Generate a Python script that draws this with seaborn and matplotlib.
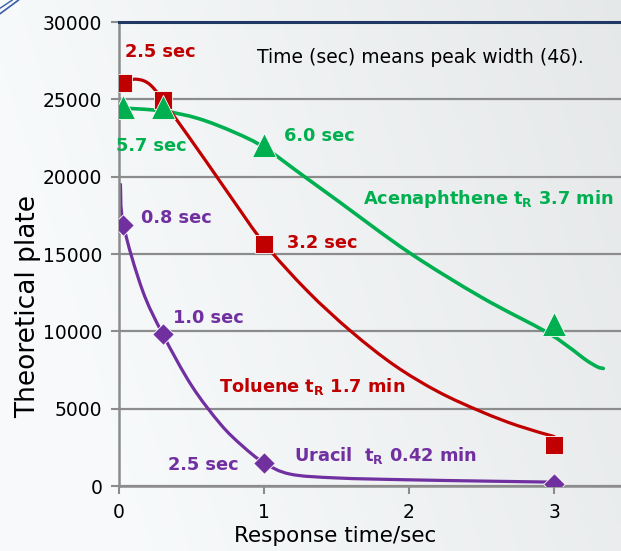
import numpy as np
import pandas as pd
import matplotlib
matplotlib.use("Agg")
import matplotlib.pyplot as plt
from matplotlib.path import Path
from matplotlib.patches import PathPatch
import seaborn as sns

# ---------------- data ----------------
marker_x = [0.03, 0.3, 1.0, 3.0]
toluene_pts = [26050, 24950, 15620, 2650]
acenaph_pts = [24500, 24500, 22040, 10500]
uracil_pts = [16900, 9850, 1500, 150]

toluene_curve_x = [0.03, 0.12, 0.22, 0.35, 0.6, 0.8, 1.0, 1.3, 1.6, 1.9, 2.2, 2.5, 2.75, 3.0]
toluene_curve_y = [26100, 26300, 25900, 24300, 21000, 18300, 15700, 12600, 10000, 7800, 6100, 4800, 3900, 3200]

acenaph_curve_x = [0.0, 0.3, 0.55, 0.8, 1.0, 1.25, 1.5, 2.0, 2.5, 2.94, 3.1, 3.22, 3.3, 3.34]
acenaph_curve_y = [24450, 24250, 23750, 22850, 21900, 20200, 18500, 15100, 12200, 10000, 9000, 8150, 7700, 7600]

uracil_curve_x = [0.01, 0.03, 0.16, 0.3, 0.5, 0.7, 0.85, 1.0, 1.18, 1.5, 2.0, 2.5, 3.0]
uracil_curve_y = [19500, 16900, 12700, 9850, 6500, 4000, 2600, 1500, 770, 520, 400, 320, 250]

x_ticks = [0, 1, 2, 3]
y_ticks = [0, 5000, 10000, 15000, 20000, 25000, 30000]

RED = "#C00000"
GREEN = "#00B050"
PURPLE = "#7030A0"

sns.set_theme(style="white")
plt.rcParams["font.family"] = ["DejaVu Sans"]
plt.rcParams["mathtext.fontset"] = "custom"
plt.rcParams["mathtext.rm"] = "DejaVu Sans:bold"
plt.rcParams["mathtext.it"] = "DejaVu Sans:bold"
plt.rcParams["mathtext.bf"] = "DejaVu Sans:bold"

fig = plt.figure(figsize=(6.21, 5.51), dpi=100)

# background gradient
bg = fig.add_axes([0, 0, 1, 1], zorder=-10)
gx = np.linspace(0, 1, 200)
gy = np.linspace(0, 1, 200)
GX, GY = np.meshgrid(gx, gy)
val = 0.985 - 0.075 * np.clip(GX * 0.9 + (1 - GY) * 0.25 - 0.2, 0, 1)
img = np.dstack([val * 0.985, val * 0.995, val * 1.0])
img = np.clip(img, 0, 1)
bg.imshow(img, extent=[0, 1, 0, 1], aspect="auto", origin="upper")
bg.plot([0.0, 0.03], [0.975, 1.0], color="#3a5ea8", lw=1.2)
bg.plot([0.0, 0.02], [0.985, 1.0], color="#3a5ea8", lw=1.0)
bg.set_xlim(0, 1)
bg.set_ylim(0, 1)
bg.axis("off")

ax = fig.add_axes([119 / 621, 65 / 551, 1 - 119 / 621, (486 - 22) / 551])
ax.set_facecolor("none")


def smooth_line(ax, xs, ys, color, lw, z):
    """Excel-style smoothed line: Catmull-Rom segments drawn as cubic Beziers."""
    P = np.column_stack([xs, ys]).astype(float)
    n = len(P)
    verts = [tuple(P[0])]
    codes = [Path.MOVETO]
    for i in range(n - 1):
        p0 = P[i - 1] if i > 0 else P[i]
        p1 = P[i]
        p2 = P[i + 1]
        p3 = P[i + 2] if i + 2 < n else P[i + 1]
        c1 = p1 + (p2 - p0) / 6.0
        c2 = p2 - (p3 - p1) / 6.0
        verts += [tuple(c1), tuple(c2), tuple(p2)]
        codes += [Path.CURVE4] * 3
    patch = PathPatch(Path(verts, codes), facecolor="none", edgecolor=color, lw=lw,
                      zorder=z, transform=ax.transData, capstyle="round", joinstyle="round")
    ax.add_patch(patch)


smooth_line(ax, acenaph_curve_x, acenaph_curve_y, GREEN, 2.6, 2)
smooth_line(ax, toluene_curve_x, toluene_curve_y, RED, 2.3, 2)
smooth_line(ax, uracil_curve_x, uracil_curve_y, PURPLE, 2.3, 2)

# markers
sns.scatterplot(x=marker_x, y=toluene_pts, ax=ax, marker="s", s=185, color=RED,
                edgecolor="white", linewidth=0.6, zorder=3)
sns.scatterplot(x=marker_x, y=acenaph_pts, ax=ax, marker="^", s=300, color=GREEN,
                edgecolor="white", linewidth=0.6, zorder=4)
sns.scatterplot(x=marker_x, y=uracil_pts, ax=ax, marker="D", s=120, color=PURPLE,
                edgecolor="white", linewidth=0.6, zorder=4)

ax.set_xlim(0, (621 - 119) / 145)
ax.set_ylim(0, 30000)
ax.set_xticks(x_ticks)
ax.set_yticks(y_ticks)
ax.set_xticklabels([str(v) for v in x_ticks], fontsize=13.5)
ax.set_yticklabels([str(v) for v in y_ticks], fontsize=13.5)
ax.tick_params(axis="both", direction="out", length=6, width=1.5, color="#8c8c8c",
               labelcolor="black", pad=6)
ax.tick_params(axis="y", left=True)
ax.tick_params(axis="x", bottom=True)
ax.grid(axis="y", color="#8c8c8c", lw=1.6, zorder=1)
ax.set_axisbelow(True)
for side in ["left", "bottom"]:
    ax.spines[side].set_color("#8c8c8c")
    ax.spines[side].set_linewidth(1.8)
ax.spines["top"].set_color("#1F3864")
ax.spines["top"].set_linewidth(2.2)
ax.spines["right"].set_visible(False)

ax.set_xlabel("Response time/sec", fontsize=15.5, color="black")
ax.set_ylabel("Theoretical plate", fontsize=19, color="black")
ax.xaxis.set_label_coords(0.43, -0.087)
ax.yaxis.set_label_coords(-0.155, 0.386)

bkw = dict(fontsize=12.8, fontweight="bold", va="center", ha="left", clip_on=False)
ax.text(0.04, 28050, "2.5 sec", color=RED, **bkw)
ax.text(1.16, 15700, "3.2 sec", color=RED, **bkw)
ax.text(0.69, 6460, r"Toluene t$_\mathrm{R}$ 1.7 min", color=RED, **bkw)
ax.text(-0.02, 21980, "5.7 sec", color=GREEN, **bkw)
ax.text(1.14, 22620, "6.0 sec", color=GREEN, **bkw)
ax.text(1.68, 18550, r"Acenaphthene t$_\mathrm{R}$ 3.7 min", color=GREEN, **bkw)
ax.text(0.15, 17320, "0.8 sec", color=PURPLE, **bkw)
ax.text(0.37, 10860, "1.0 sec", color=PURPLE, **bkw)
ax.text(0.34, 1360, "2.5 sec", color=PURPLE, **bkw)
ax.text(1.21, 2000, r"Uracil  t$_\mathrm{R}$ 0.42 min", color=PURPLE, **bkw)
ax.text(0.95, 27730, "Time (sec) means peak width (4δ).", color="black", fontsize=13.5,
        va="center", ha="left")

fig.savefig("out.png", dpi=100)
